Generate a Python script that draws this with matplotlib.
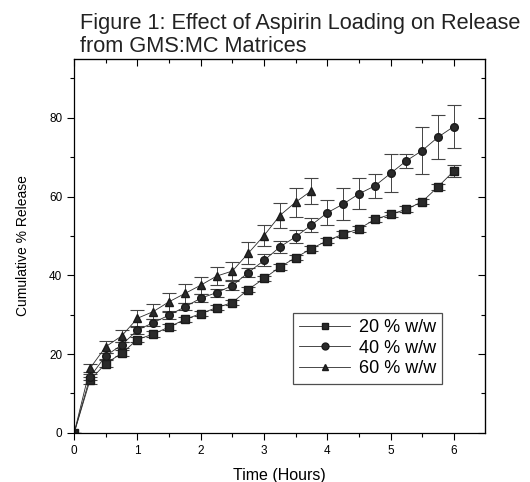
import matplotlib
matplotlib.use('Agg')
import matplotlib.pyplot as plt
import numpy as np

plt.rcParams['font.family'] = ['Liberation Sans', 'DejaVu Sans']

# time points (hours)
time_20 = np.arange(0, 6.01, 0.25)
time_40 = np.arange(0, 6.01, 0.25)
time_60 = np.arange(0, 3.76, 0.25)

# cumulative % release
rel_20 = [0, 13.4, 17.6, 20.2, 23.7, 25.1, 26.9, 28.8, 30.3, 31.8, 33.1, 36.4, 39.2,
          42.1, 44.5, 46.8, 48.8, 50.5, 51.8, 54.2, 55.5, 56.8, 58.7, 62.5, 66.5]
err_20 = [0, 0.9, 0.8, 0.8, 0.7, 0.7, 0.7, 0.7, 0.7, 0.7, 0.7, 0.7, 0.7,
          0.7, 0.7, 0.7, 0.7, 0.7, 0.7, 0.7, 0.7, 0.7, 0.7, 0.8, 1.6]

rel_40 = [0, 14.2, 19.6, 22.3, 26.1, 28.0, 29.9, 32.0, 34.2, 35.6, 37.4, 40.7, 43.8,
          47.2, 49.8, 52.8, 55.9, 58.1, 60.7, 62.7, 65.9, 69.1, 71.7, 75.1, 77.8]
err_40 = [0, 0.8, 0.8, 0.8, 0.9, 0.9, 0.9, 0.9, 1.0, 1.0, 1.1, 1.2, 1.5,
          1.6, 1.7, 1.8, 3.2, 4.1, 3.9, 3.1, 4.8, 1.8, 6.0, 5.6, 5.4]

rel_60 = [0, 16.4, 21.9, 24.6, 29.1, 30.8, 33.3, 35.4, 37.5, 39.8, 41.1, 45.6, 50.1,
          55.2, 58.6, 61.5]
err_60 = [0, 1.0, 1.5, 1.5, 2.0, 2.0, 2.3, 2.5, 2.2, 2.2, 2.4, 2.8, 2.6,
          3.3, 3.7, 3.3]

labels = ['20 % w/w', '40 % w/w', '60 % w/w']

fig = plt.figure(figsize=(5.30, 4.82), dpi=100)
ax = fig.add_axes([0.140, 0.102, 0.776, 0.776])

series = [(time_20, rel_20, err_20, 's'), (time_40, rel_40, err_40, 'o'),
          (time_60, rel_60, err_60, '^')]
handles = []
for (t, y, e, mk), lab in zip(series, labels):
    eb = ax.errorbar(t, y, yerr=e, fmt='-', marker=mk, color='#2a2a2a', ms=5.5,
                     lw=0.6, elinewidth=0.7, capsize=5, capthick=0.8, ecolor='#444444',
                     mfc='#2a2a2a', mec='#1a1a1a')
    eb[0].set_label(lab)
    handles.append(eb[0])

ax.set_xlim(0, 6.5)
ax.set_ylim(0, 95)
ax.set_xticks(np.arange(0, 7, 1))
ax.set_xticks(np.arange(0.5, 6.5, 1), minor=True)
ax.set_yticks(np.arange(0, 81, 20))
ax.set_yticks(np.arange(10, 95, 20), minor=True)
ax.tick_params(axis='both', which='both', direction='out', labelsize=8.5, width=0.8)
ax.tick_params(which='major', length=5)
ax.tick_params(which='minor', length=3)

# inward ticks on top and right
ax_top = ax.secondary_xaxis('top')
ax_top.set_xticks(np.arange(0, 7, 1))
ax_top.set_xticks(np.arange(0.5, 6.5, 1), minor=True)
ax_top.tick_params(which='both', direction='in', labeltop=False, width=0.8)
ax_top.tick_params(which='major', length=5)
ax_top.tick_params(which='minor', length=3)
ax_right = ax.secondary_yaxis('right')
ax_right.set_yticks(np.arange(0, 81, 20))
ax_right.set_yticks(np.arange(10, 95, 20), minor=True)
ax_right.tick_params(which='both', direction='in', labelright=False, width=0.8)
ax_right.tick_params(which='major', length=5)
ax_right.tick_params(which='minor', length=3)

for sp in ax.spines.values():
    sp.set_linewidth(0.9)

ax.set_xlabel('Time (Hours)', fontsize=11.5, labelpad=8)
ax.set_ylabel('Cumulative % Release', fontsize=10, labelpad=14)

fig.text(0.150, 0.972, 'Figure 1: Effect of Aspirin Loading on Release\nfrom GMS:MC Matrices',
         fontsize=15.7, ha='left', va='top', linespacing=1.1, color='#222222')

leg = ax.legend(handles=handles, loc='upper left', bbox_to_anchor=(0.51, 0.345),
                fontsize=13, frameon=True, fancybox=False, edgecolor='#222222',
                handlelength=2.8, borderpad=0.35, labelspacing=0.2, handletextpad=0.5,
                markerscale=0.9)
leg.get_frame().set_linewidth(0.9)

fig.savefig('out.png', dpi=100)
